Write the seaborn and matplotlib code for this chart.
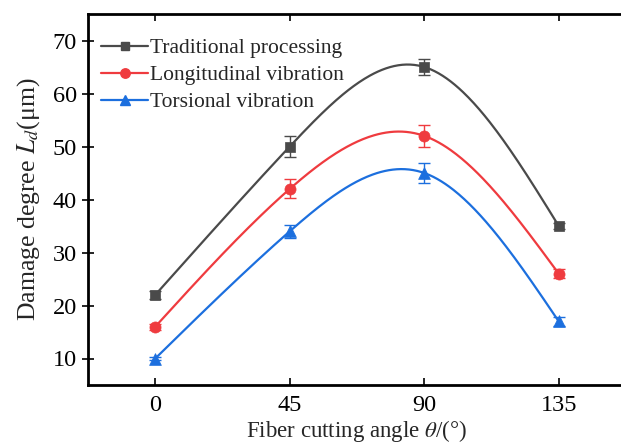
import numpy as np
import pandas as pd
import matplotlib
matplotlib.use("Agg")
import matplotlib.pyplot as plt
from matplotlib.lines import Line2D
import seaborn as sns

# ---- data ----
angles = [0, 45, 90, 135]
series_names = ["Traditional processing", "Longitudinal vibration", "Torsional vibration"]
traditional = [22, 50, 65, 35]
traditional_err = [0.8, 2.0, 1.5, 0.5]
longitudinal = [16, 42, 52, 26]
longitudinal_err = [0.6, 1.8, 2.0, 0.8]
torsional = [10, 34, 45, 17]
torsional_err = [0.3, 1.2, 1.8, 0.8]
xtick_labels = ["0", "45", "90", "135"]

colors = ["#4a4a4a", "#ef3b3f", "#1c6fde"]
markers = ["s", "o", "^"]
msizes = [7, 8, 8.5]

sns.set_theme(style="ticks")
plt.rcParams["font.family"] = ["Liberation Serif", "DejaVu Serif"]
plt.rcParams["mathtext.fontset"] = "stix"


def natural_spline(x, y, xs):
    x = np.asarray(x, float); y = np.asarray(y, float)
    n = len(x)
    h = np.diff(x)
    A = np.zeros((n, n)); b = np.zeros(n)
    A[0, 0] = 1; A[-1, -1] = 1
    for i in range(1, n - 1):
        A[i, i - 1] = h[i - 1]
        A[i, i] = 2 * (h[i - 1] + h[i])
        A[i, i + 1] = h[i]
        b[i] = 6 * ((y[i + 1] - y[i]) / h[i] - (y[i] - y[i - 1]) / h[i - 1])
    M = np.linalg.solve(A, b)
    out = np.empty_like(xs)
    for k, t in enumerate(xs):
        i = min(max(np.searchsorted(x, t) - 1, 0), n - 2)
        a = x[i + 1] - t; c = t - x[i]
        out[k] = (M[i] * a ** 3 + M[i + 1] * c ** 3) / (6 * h[i]) \
            + (y[i] / h[i] - M[i] * h[i] / 6) * a + (y[i + 1] / h[i] - M[i + 1] * h[i] / 6) * c
    return out


fig = plt.figure(figsize=(6.21, 4.46), dpi=100)
ax = fig.add_axes([88 / 621, 1 - 385 / 446, (626 - 88) / 621, (385 - 14) / 446])

xs = np.linspace(0, 135, 300)
all_vals = [traditional, longitudinal, torsional]
all_errs = [traditional_err, longitudinal_err, torsional_err]
curves = []
for name, vals in zip(series_names, all_vals):
    curves.append(pd.DataFrame({"angle": xs, "value": natural_spline(angles, vals, xs), "series": name}))
curve_df = pd.concat(curves, ignore_index=True)
sns.lineplot(data=curve_df, x="angle", y="value", hue="series", palette=colors,
             linewidth=1.6, legend=False, ax=ax, zorder=2)

for name, vals, errs, c, m, ms in zip(series_names, all_vals, all_errs, colors, markers, msizes):
    ax.errorbar(angles, vals, yerr=errs, fmt="none", ecolor=c, elinewidth=1.0,
                capsize=4, capthick=1.0, zorder=3)
    pts = pd.DataFrame({"angle": angles, "value": vals})
    sns.scatterplot(data=pts, x="angle", y="value", color=c, marker=m, s=ms ** 2,
                    edgecolor=c, linewidth=0.5, ax=ax, zorder=4, legend=False)

ax.set_xlim(-22.5, 157.5)
ax.set_ylim(5, 75)
ax.set_xticks(angles)
ax.set_xticklabels(xtick_labels)
ax.set_yticks([10, 20, 30, 40, 50, 60, 70])
ax.set_xlabel(r"Fiber cutting angle $\theta$/(°)", fontsize=16.5, labelpad=2)
ax.set_ylabel(r"Damage degree $L_d$(μm)", fontsize=18.5, labelpad=8)

for s in ax.spines.values():
    s.set_linewidth(2.0)
    s.set_color("black")
ax.tick_params(axis="x", direction="in", length=5, width=1.2, top=True, labelsize=17.5, pad=7, colors="black")
ax.tick_params(axis="y", direction="inout", length=8, width=1.2, labelsize=17.5, pad=4, colors="black")

handles = [Line2D([0], [0], color=c, marker=m, markersize=ms * 0.85, linewidth=1.6)
           for c, m, ms in zip(colors, markers, msizes)]
ax.legend(handles, series_names, loc="upper left", frameon=False, fontsize=15.5,
          handlelength=2.2, handletextpad=0.1, labelspacing=0.33,
          bbox_to_anchor=(0.0, 0.97), borderaxespad=0.2)

fig.savefig("out.png", dpi=100)
